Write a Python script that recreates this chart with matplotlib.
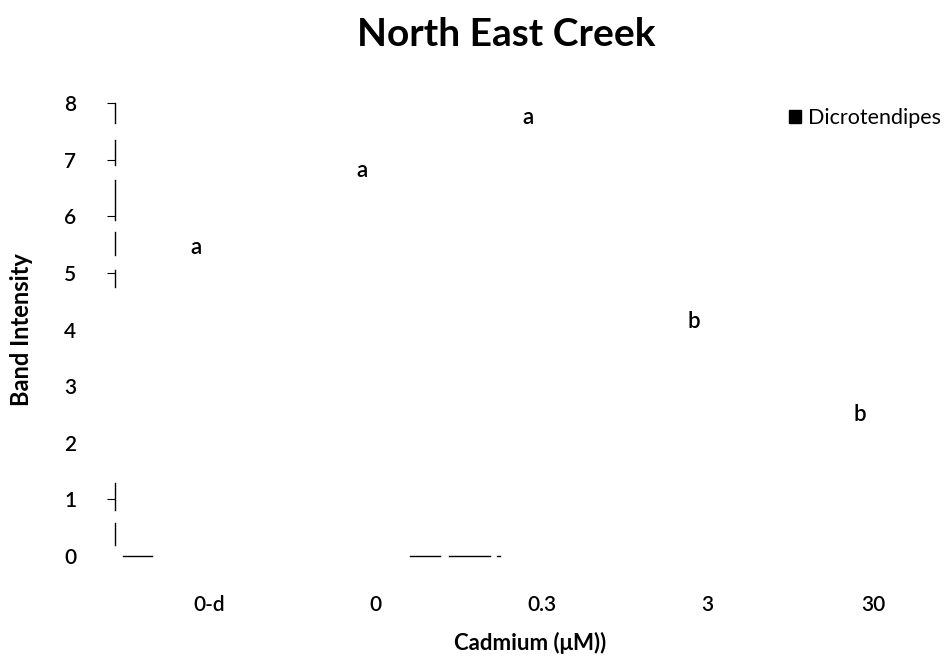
import matplotlib
matplotlib.use('Agg')
import matplotlib.pyplot as plt
from matplotlib.patches import Rectangle

# data
categories = ['0-d', '0', '0.3', '3', '30']
band_intensity = [5.05, 6.4, 7.35, 3.75, 2.1]
letter_height = [5.45, 6.8, 7.75, 4.15, 2.5]
letters = ['a', 'a', 'a', 'b', 'b']
y_ticks = [0, 1, 2, 3, 4, 5, 6, 7, 8]

# pieces of the (broken) axis lines that survive in the scan
left_axis_pieces = [(7.65, 8.0), (6.91, 7.35), (5.94, 6.64), (5.32, 5.72), (4.75, 5.05),
                    (0.81, 1.29), (0.19, 0.58)]
bottom_axis_pieces = [(-0.45, -0.28), (1.28, 1.46), (1.51, 1.76), (1.80, 1.82)]

plt.rcParams['font.family'] = ['Lato', 'DejaVu Sans']

fig = plt.figure(figsize=(9.52, 6.69), dpi=100)
ax = fig.add_axes([0.1208, 0.1689, 0.8718, 0.6771])

x = list(range(len(categories)))
# bars are white in the original, they do not show
ax.bar(x, band_intensity, width=0.55, color='white', edgecolor='none', label='Dicrotendipes')

for xi, h, t in zip(x, letter_height, letters):
    ax.text(xi - 0.01, h, t, ha='center', va='center', fontsize=16, fontweight='semibold')

ax.set_xlim(-0.5, 4.5)
ax.set_ylim(0, 8)
ax.set_yticks(y_ticks)
ax.set_yticklabels([str(v) for v in y_ticks], fontsize=15, fontweight='semibold')
ax.set_xticks([xi + 0.07 for xi in x])
ax.set_xticklabels(categories, fontsize=15, fontweight='semibold')
ax.tick_params(axis='x', length=0, pad=28)
ax.tick_params(axis='y', length=6, width=0.8, pad=22)
for t, v in zip(ax.yaxis.get_major_ticks(), y_ticks):
    if v in (0, 2, 3, 4):
        t.tick1line.set_visible(False)

for s in ax.spines.values():
    s.set_visible(False)
for lo, hi in left_axis_pieces:
    ax.plot([-0.5, -0.5], [lo, hi], color='black', lw=1.0, clip_on=False)
for lo, hi in bottom_axis_pieces:
    ax.plot([lo, hi], [0, 0], color='black', lw=1.0, clip_on=False)

ax.set_ylabel('Band Intensity', fontsize=17, fontweight='bold', labelpad=22)
ax.set_xlabel('Cadmium (\u03bcM))', fontsize=16, fontweight='bold', labelpad=12)
fig.suptitle('North East Creek', fontsize=28, fontweight='bold', y=0.975, x=0.532)

fig.legend(handles=[Rectangle((0, 0), 1, 1, color='black')], labels=['Dicrotendipes'],
           loc='center left', bbox_to_anchor=(0.829, 0.823), frameon=False, fontsize=15.5,
           handlelength=0.55, handleheight=0.55, handletextpad=0.3, borderaxespad=0,
           borderpad=0)

fig.savefig('out.png', dpi=100)
